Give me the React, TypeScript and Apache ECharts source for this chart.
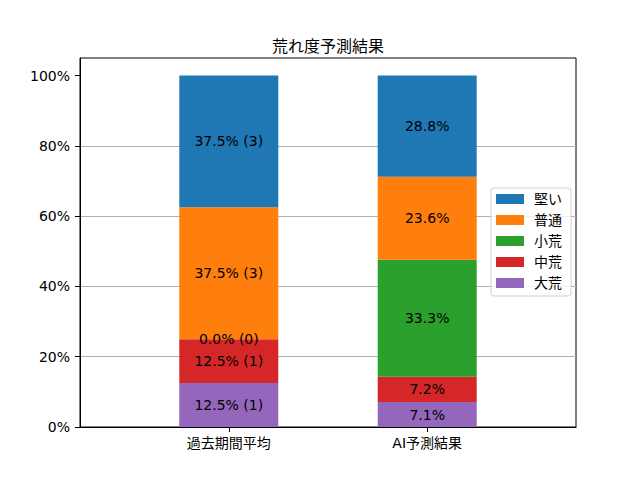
import React, { useEffect, useRef } from "react";
import * as echarts from "echarts";

const categories = ["過去期間平均", "AI予測結果"];
const seriesNames = ["大荒", "中荒", "小荒", "普通", "堅い"];
const pastPct = [12.5, 12.5, 0.0, 37.5, 37.5];
const pastCount = [1, 1, 0, 3, 3];
const aiPct = [7.1, 7.2, 33.3, 23.6, 28.8];
const colors = ["#9467bd", "#d62728", "#2ca02c", "#ff7f0e", "#1f77b4"];
const yTicks = [0, 20, 40, 60, 80, 100];
const legendOrder = ["堅い", "普通", "小荒", "中荒", "大荒"];
const titleText = "荒れ度予測結果";

const FONT = "'DejaVu Sans', 'Noto Sans CJK JP', sans-serif";

export default function App() {
  const ref = useRef<HTMLDivElement>(null);
  useEffect(() => {
    if (!ref.current) return;
    const chart = echarts.init(ref.current, null, { renderer: "svg" });
    const option: any = {
      animation: false,
      backgroundColor: "#fff",
      textStyle: { fontFamily: FONT },
      title: {
        text: titleText,
        left: 323,
        top: 33,
        textAlign: "center",
        textStyle: { fontSize: 16, fontWeight: "normal", color: "#000", fontFamily: FONT },
      },
      grid: {
        left: 80,
        right: 64,
        top: 58,
        bottom: 53,
        show: true,
        borderColor: "#000",
        borderWidth: 1,
        backgroundColor: "transparent",
      },
      legend: {
        data: legendOrder,
        orient: "vertical",
        left: 491,
        top: 188,
        itemWidth: 28,
        itemHeight: 10,
        itemGap: 7,
        padding: [4, 9, 6, 5],
        icon: "rect",
        backgroundColor: "rgba(255,255,255,0.8)",
        borderColor: "#d0d0d0",
        borderWidth: 1,
        borderRadius: 3,
        textStyle: { fontSize: 14, color: "#000", fontFamily: FONT, padding: [0, 0, 0, 5] },
      },
      xAxis: {
        type: "value",
        min: -0.75,
        max: 1.75,
        splitLine: { show: false },
        axisLine: { show: true, onZero: false, lineStyle: { color: "#000", width: 1 } },
        axisTick: { show: true, customValues: [0, 1], length: 5, lineStyle: { color: "#000" } },
        axisLabel: {
          customValues: [0, 1],
          formatter: (v: number) => categories[Math.round(v)] ?? "",
          fontSize: 14,
          color: "#000",
          margin: 9,
          fontFamily: FONT,
        },
      },
      yAxis: {
        type: "value",
        min: 0,
        max: 105,
        interval: 20,
        axisLine: { show: true, onZero: false, lineStyle: { color: "#000", width: 1 } },
        axisTick: { show: true, customValues: yTicks, length: 5, lineStyle: { color: "#000" } },
        axisLabel: {
          customValues: yTicks,
          formatter: (v: number) => `${v}%`,
          fontSize: 14,
          color: "#000",
          margin: 10,
          fontFamily: FONT,
        },
        splitLine: {
          show: true,
          showMinLine: false,
          showMaxLine: false,
          lineStyle: { color: "#b0b0b0", width: 1 },
        },
      },
      series: seriesNames.map((name, i) => ({
        type: "bar",
        name,
        stack: "total",
        barWidth: 99,
        itemStyle: { color: colors[i] },
        encode: { x: 1, y: 0 },
        label: {
          show: true,
          position: "inside",
          color: "#000",
          fontSize: 14,
          fontFamily: FONT,
          formatter: (p: any) =>
            p.dataIndex === 0
              ? `${pastPct[i].toFixed(1)}% (${pastCount[i]})`
              : `${aiPct[i].toFixed(1)}%`,
        },
        data: [
          [pastPct[i], 0],
          [aiPct[i], 1],
        ],
      })),
    };
    chart.setOption(option);
    return () => chart.dispose();
  }, []);
  return (
    <div
      ref={ref}
      style={{ position: "absolute", left: 0, top: 0, width: 640, height: 480, background: "#fff" }}
    />
  );
}
